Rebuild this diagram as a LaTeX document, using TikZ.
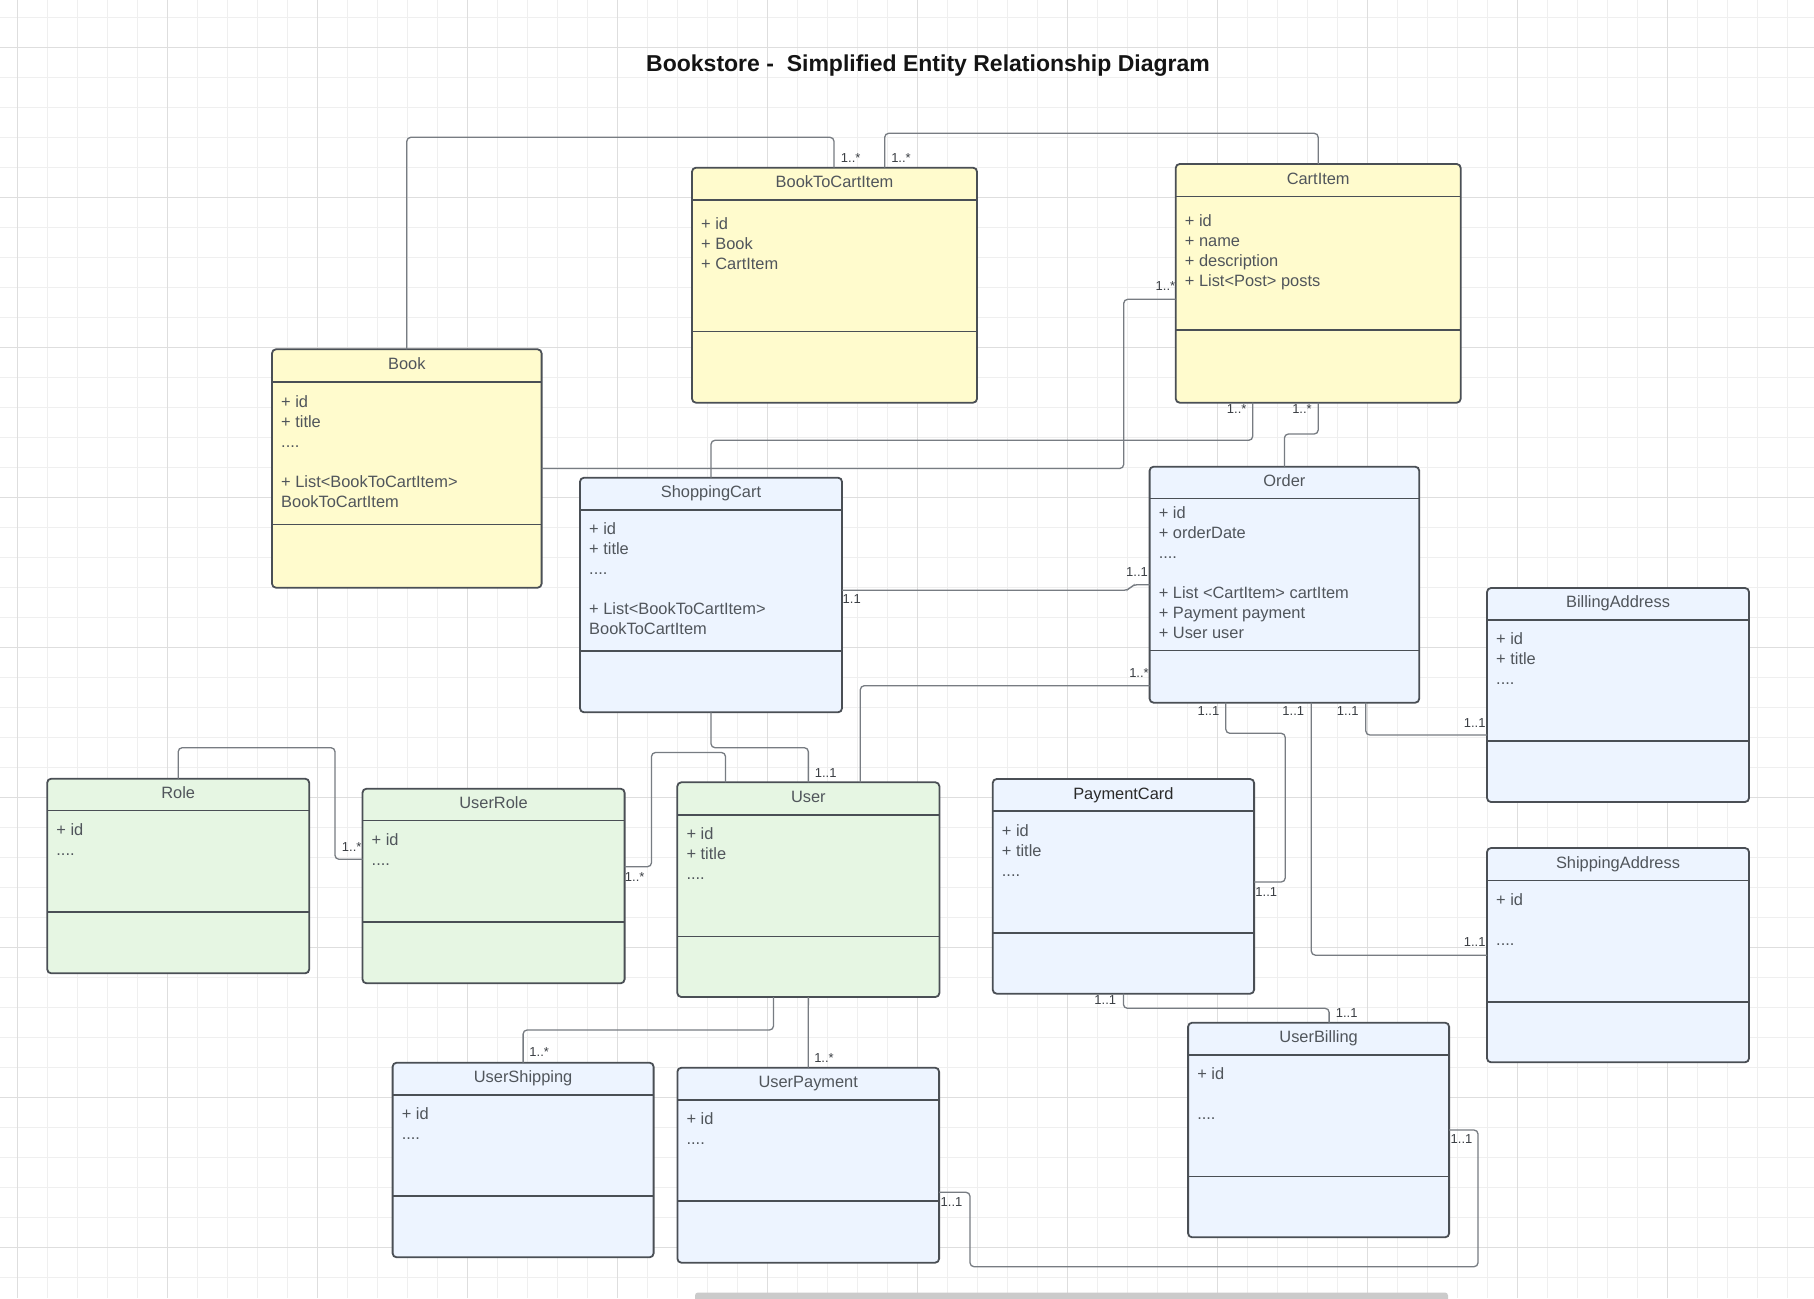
\documentclass[tikz,border=0pt]{standalone}
\usepackage{fontspec}
\setmainfont{Liberation Sans}
\usetikzlibrary{fit}
\definecolor{gridminor}{HTML}{EFEFEF}
\definecolor{gridmajor}{HTML}{DEDEDE}
\definecolor{yfill}{HTML}{FFFBCD}
\definecolor{bfill}{HTML}{EDF4FF}
\definecolor{gfill}{HTML}{E6F6E3}
\definecolor{bordc}{HTML}{4A4F55}
\definecolor{linec}{HTML}{777C82}
\definecolor{txtc}{HTML}{50555B}
\definecolor{labc}{HTML}{3A3E43}
\definecolor{titledark}{HTML}{2A2A2A}
\definecolor{scrollc}{HTML}{CBCBCB}
\newcommand{\fourdots}{....}
\tikzset{
  classbox/.style={draw=bordc, line width=1.8pt, rounded corners=4pt, inner sep=0pt, outer sep=0pt},
  boxline/.style={draw=bordc, line width=1.6pt},
  classtitle/.style={anchor=base, inner sep=0pt, text=txtc, font=\fontsize{16.4}{20}\selectfont},
  attr/.style={anchor=base west, inner sep=0pt, text=txtc, font=\fontsize{16.4}{20}\selectfont},
  conn/.style={draw=linec, line width=1.3pt, rounded corners=4pt},
  mult/.style={inner sep=0pt, text=labc, font=\fontsize{13}{15}\selectfont},
  gminor/.style={draw=gridminor, line width=1pt},
  gmajor/.style={draw=gridmajor, line width=1pt},
}
\newcommand{\umlclass}[9]{%
  \node[classbox, fill=#8, fit={(#2,#3) (#4,#5)}] (#1) {};
  \draw[boxline] (#2,#6) -- (#4,#6);
  \draw[boxline] (#2,#7) -- (#4,#7);
  \node[classtitle] (#1-title) at ({(#2+#4)/2},{(#3+#6)/2+4.1}) {#9};
}
\newcommand{\umlattrs}[4]{%
  \foreach \attrline [count=\i from 0] in {#4} {\node[attr] (#1-a\i) at ({#2},{#3+20*\i+6}) {\attrline};}
}
\begin{document}
\begin{tikzpicture}[x=1pt,y=-1pt]
\useasboundingbox (0,0) rectangle (1814,1298);
\fill[white] (0,0) rectangle (1814,1298);
% grid
\foreach \k in {0,...,60} {\draw[gminor] ({17.2+30*\k},0) -- ({17.2+30*\k},1298);}
\foreach \k in {0,...,42} {\draw[gminor] (0,{17.3+30*\k}) -- (1814,{17.3+30*\k});}
\foreach \k in {0,5,...,60} {\draw[gmajor] ({17.2+30*\k},0) -- ({17.2+30*\k},1298);}
\foreach \k in {1,6,...,41} {\draw[gmajor] (0,{17.3+30*\k}) -- (1814,{17.3+30*\k});}
\fill[scrollc, rounded corners=3pt] (695,1292.5) rectangle (1448,1303);

% title
\node[anchor=base, inner sep=0pt, text=black!92, font=\bfseries\fontsize{23}{27}\selectfont] (title) at (928,71.2) {Bookstore -\ \ Simplified Entity Relationship Diagram};

% classes
\umlclass{book}{272}{349.3}{541.6}{587.7}{381.7}{524.3}{yfill}{Book}
\umlattrs{book}{281}{401}{+ id,+ title,\fourdots,{},+ List<BookToCartItem>,BookToCartItem}
\umlclass{btc}{692}{167.7}{977}{402.7}{200}{331.3}{yfill}{BookToCartItem}
\umlattrs{btc}{701}{223.7}{+ id,+ Book,+ CartItem}
\umlclass{cartitem}{1175.7}{164}{1460.7}{402.7}{196.3}{329.7}{yfill}{CartItem}
\umlattrs{cartitem}{1184.7}{220.7}{+ id,+ name,+ description,+ List<Post> posts}
\umlclass{shopcart}{580}{477.7}{842}{712.3}{510}{651}{bfill}{ShoppingCart}
\umlattrs{shopcart}{589}{528.3}{+ id,+ title,\fourdots,{},+ List<BookToCartItem>,BookToCartItem}
\umlclass{order}{1149.6}{466.7}{1419.2}{702.7}{498.3}{650.3}{bfill}{Order}
\umlattrs{order}{1158.6}{512.3}{+ id,+ orderDate,\fourdots,{},+ List <CartItem> cartItem,+ Payment payment,+ User user}
\umlclass{billing}{1487}{588}{1749}{802}{619.7}{741}{bfill}{BillingAddress}
\umlattrs{billing}{1496}{638.7}{+ id,+ title,\fourdots}
\umlclass{shipping}{1487}{848}{1749}{1062.3}{880.3}{1001.7}{bfill}{ShippingAddress}
\umlattrs{shipping}{1496}{899}{+ id,{},\fourdots}
\umlclass{paycard}{992.7}{779}{1254.1}{993.7}{811}{932.7}{bfill}{\color{titledark}PaymentCard}
\umlattrs{paycard}{1001.7}{830}{+ id,+ title,\fourdots}
\umlclass{role}{47.2}{778.7}{309.2}{973.3}{810.3}{912}{gfill}{Role}
\umlattrs{role}{56.2}{829.3}{+ id,\fourdots}
\umlclass{userrole}{362.5}{788.7}{624.6}{983.3}{820.3}{922}{gfill}{UserRole}
\umlattrs{userrole}{371.5}{839.3}{+ id,\fourdots}
\umlclass{user}{677.3}{782.3}{939.4}{997}{815}{936.3}{gfill}{User}
\umlattrs{user}{686.3}{833.7}{+ id,+ title,\fourdots}
\umlclass{usership}{392.6}{1062.7}{653.6}{1257.3}{1095}{1196}{bfill}{UserShipping}
\umlattrs{usership}{401.6}{1113.3}{+ id,\fourdots}
\umlclass{userpay}{677.4}{1067.7}{939.1}{1262.7}{1099.7}{1201}{bfill}{UserPayment}
\umlattrs{userpay}{686.4}{1118.7}{+ id,\fourdots}
\umlclass{userbill}{1188.1}{1022.7}{1449.1}{1237.3}{1055}{1176.3}{bfill}{UserBilling}
\umlattrs{userbill}{1197.1}{1073.7}{+ id,{},\fourdots}

% connectors
\draw[conn] (book.north) |- (834,137.3) -- (btc.north -| 834,0);
\draw[conn] (btc.north -| 884.7,0) |- (cartitem.north |- 0,133.3) -- (cartitem.north);
\draw[conn] (book.east) -| (1123.7,299.3) -- (cartitem.west |- 0,299.3);
\draw[conn] (shopcart.north) |- (1252.7,440.3) -- (cartitem.south -| 1252.7,0);
\draw[conn] (cartitem.south) -- (cartitem.south |- 0,434) -| (order.north);
\draw[conn] (shopcart.east |- 0,590.3) -- (1128,590.3) -- (1133,584.7) -- (order.west);
\draw[conn] (user.north -| 860.3,0) |- (order.west |- 0,685.7);
\draw[conn] (shopcart.south) |- (user.north |- 0,747.7) -- (user.north);
\draw[conn] (user.north -| 725.5,0) |- (651.5,752.5) |- (userrole.east |- 0,866.7);
\draw[conn] (role.north) |- (335,747.7) |- (userrole.west |- 0,859.3);
\draw[conn] (user.south -| 773.5,0) |- (usership.north |- 0,1030) -- (usership.north);
\draw[conn] (user.south) -- (userpay.north);
\draw[conn] (userpay.east |- 0,1192.3) -| (970,1266.7) -| (1478,1130) -- (userbill.east |- 0,1130);
\draw[conn] (paycard.south) |- (1329.1,1008.3) -- (userbill.north -| 1329.1,0);
\draw[conn] (order.south -| 1225.8,0) |- (1285.2,733.3) |- (paycard.east |- 0,882);
\draw[conn] (order.south -| 1311.3,0) |- (shipping.west);
\draw[conn] (order.south -| 1365.8,0) |- (billing.west |- 0,735);

% multiplicities
\node[mult] (m1) at (850.7,157.7) {1..*};
\node[mult] (m2) at (901,157.7) {1..*};
\node[mult] (m3) at (1165.4,285.7) {1..*};
\node[mult] (m4) at (1236.7,409.3) {1..*};
\node[mult] (m5) at (1302,409.3) {1..*};
\node[mult] (m6) at (851.7,599.3) {1.1};
\node[mult] (m7) at (1137,572.3) {1..1};
\node[mult] (m8) at (1139,673.3) {1..*};
\node[mult] (m9) at (825.7,773) {1..1};
\node[mult] (m10) at (634.7,876.7) {1..*};
\node[mult] (m11) at (351.7,846.7) {1..*};
\node[mult] (m12) at (539.2,1052.3) {1..*};
\node[mult] (m13) at (824,1058.3) {1..*};
\node[mult] (m14) at (951.5,1201.7) {1..1};
\node[mult] (m15) at (1461.5,1139.3) {1..1};
\node[mult] (m16) at (1105.3,1000.3) {1..1};
\node[mult] (m17) at (1346.7,1013) {1..1};
\node[mult] (m18) at (1208.4,710.7) {1..1};
\node[mult] (m19) at (1266.3,891.7) {1..1};
\node[mult] (m20) at (1293.3,710.7) {1..1};
\node[mult] (m21) at (1474.7,942.3) {1..1};
\node[mult] (m22) at (1347.8,710.7) {1..1};
\node[mult] (m23) at (1474.7,722.7) {1..1};
\end{tikzpicture}
\end{document}
